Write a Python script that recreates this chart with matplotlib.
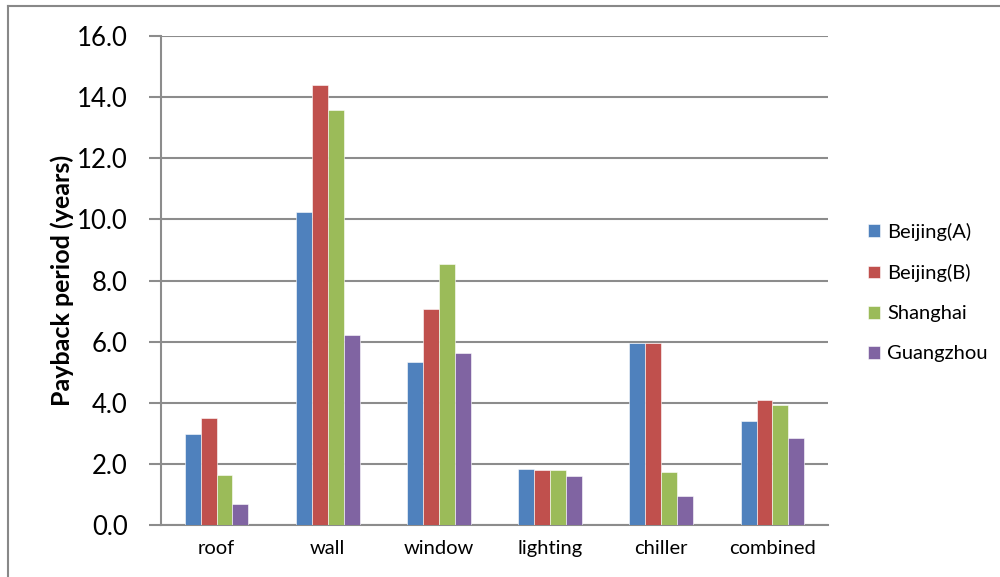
import matplotlib.pyplot as plt
import numpy as np
from matplotlib.lines import Line2D

plt.rcParams['font.family'] = ['Lato', 'DejaVu Sans']

categories = ["roof", "wall", "window", "lighting", "chiller", "combined"]
series_names = ["Beijing(A)", "Beijing(B)", "Shanghai", "Guangzhou"]
beijing_a = [2.98, 10.25, 5.34, 1.82, 5.95, 3.41]
beijing_b = [3.51, 14.39, 7.08, 1.81, 5.95, 4.08]
shanghai = [1.65, 13.59, 8.53, 1.81, 1.75, 3.92]
guangzhou = [0.70, 6.21, 5.63, 1.59, 0.94, 2.86]
y_ticks = [0, 2, 4, 6, 8, 10, 12, 14, 16]

colors = ["#4F81BD", "#C0504D", "#9BBB59", "#8064A2"]
grid_color = "#8C8C8C"

fig = plt.figure(figsize=(10, 5.77), dpi=100)
ax = fig.add_axes([0.161, 0.0901, 0.667, 0.8475])

x = np.arange(len(categories))
w = 0.143
for i, (vals, name) in enumerate(zip([beijing_a, beijing_b, shanghai, guangzhou], series_names)):
    ax.bar(x + (i - 1.5) * w, vals, w, color=colors[i], label=name,
           edgecolor="white", linewidth=0.4, zorder=3)

ax.set_xlim(-0.5, len(categories) - 0.5)
ax.set_ylim(0, 16)
ax.set_yticks(y_ticks)
ax.set_yticklabels([f"{v:.1f}" for v in y_ticks], fontsize=18.5)
ax.set_xticks(x)
ax.set_xticklabels(categories, fontsize=14.5)
ax.tick_params(axis="x", length=0, pad=11)
ax.tick_params(axis="y", length=9, width=1.5, color=grid_color, pad=15)
ax.grid(axis="y", color=grid_color, linewidth=1.5, zorder=0)
ax.set_axisbelow(True)

for side in ["top", "right"]:
    ax.spines[side].set_visible(False)
for side in ["left", "bottom"]:
    ax.spines[side].set_color(grid_color)
    ax.spines[side].set_linewidth(1.5)

ax.set_ylabel("Payback period (years)", fontsize=18, fontweight="bold", labelpad=2)

leg = ax.legend(loc="upper left", bbox_to_anchor=(1.033, 0.655), frameon=False,
                fontsize=14.5, handlelength=0.6, handleheight=0.6,
                handletextpad=0.35, labelspacing=1.15)

# thin frame round the chart area
fig.add_artist(Line2D([0.008, 0.008], [0, 0.99], transform=fig.transFigure,
                      color="#888888", linewidth=1.5))
fig.add_artist(Line2D([0.008, 1.0], [0.99, 0.99], transform=fig.transFigure,
                      color="#888888", linewidth=1.5))

fig.savefig("out.png", dpi=100)
